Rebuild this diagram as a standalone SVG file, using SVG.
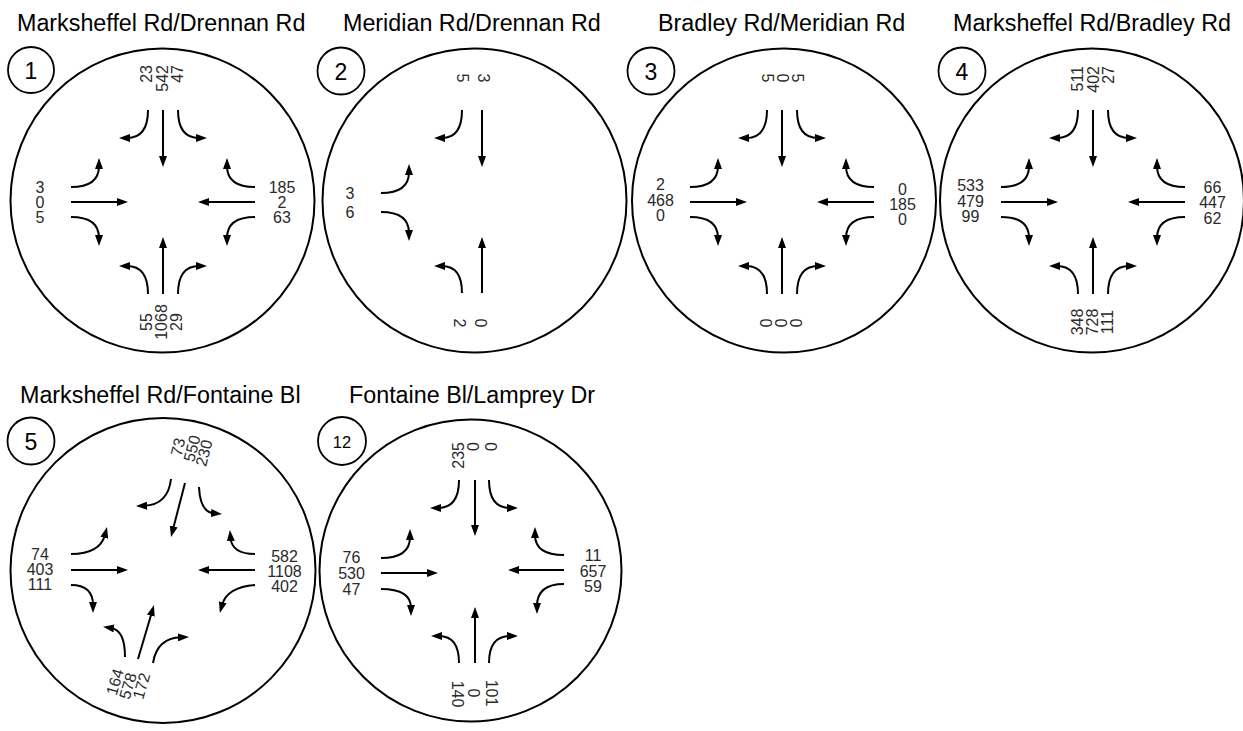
<svg xmlns="http://www.w3.org/2000/svg" width="1243" height="731" viewBox="0 0 1243 731">
<style>
.t{font-family:"Liberation Sans",Arial,sans-serif;font-size:23.3px;fill:#000}
.n{font-family:"Liberation Sans",Arial,sans-serif;font-size:16px;fill:#2a2a2a;text-anchor:middle;dominant-baseline:central}
.ne{text-anchor:end}
.bn{font-family:"Liberation Sans",Arial,sans-serif;font-size:23px;fill:#000;text-anchor:middle;dominant-baseline:central}
.c{fill:none;stroke:#000;stroke-width:2}
.b{fill:#fff;stroke:#000;stroke-width:1.8}
.a{fill:none;stroke:#000;stroke-width:2;marker-end:url(#ah)}
</style>
<defs>
<marker id="ah" markerUnits="userSpaceOnUse" markerWidth="11" markerHeight="8" refX="3" refY="4" orient="auto" viewBox="0 0 11 8"><path d="M0,0 L11,4 L0,8 z" fill="#000"/></marker>
<g id="arr4">
<path class="a" d="M0 -92 V-43"/>
<path class="a" d="M0 92 V43"/>
<path class="a" d="M-92 0 H-43"/>
<path class="a" d="M92 0 H43"/>
<path class="a" d="M-15 -92 Q-15 -64 -36 -64"/>
<path class="a" d="M15 -92 Q15 -64 36 -64"/>
<path class="a" d="M-15 92 Q-15 64 -36 64"/>
<path class="a" d="M15 92 Q15 64 36 64"/>
<path class="a" d="M-92 -15 Q-64 -15 -64 -36"/>
<path class="a" d="M-92 15 Q-64 15 -64 36"/>
<path class="a" d="M92 -15 Q64 -15 64 -36"/>
<path class="a" d="M92 15 Q64 15 64 36"/>
</g>
</defs>
<rect width="1243" height="731" fill="#fff"/>

<g id="panel1">
<text class="t" x="17" y="31">Marksheffel Rd/Drennan Rd</text>
<circle class="b" cx="31" cy="70" r="23"/>
<text class="bn" x="31" y="71">1</text>
<circle class="c" cx="162.5" cy="200.5" r="152"/>
<text class="n ne" transform="translate(146.7,65) rotate(-90)">23</text>
<text class="n ne" transform="translate(162.5,65) rotate(-90)">542</text>
<text class="n ne" transform="translate(177.5,65) rotate(-90)">47</text>
<text class="n" transform="translate(146,322) rotate(-90)">55</text>
<text class="n" transform="translate(161.5,322) rotate(-90)">1068</text>
<text class="n" transform="translate(176,322) rotate(-90)">29</text>
<text class="n" x="40" y="187.5">3</text>
<text class="n" x="40" y="202.5">0</text>
<text class="n" x="40" y="217.5">5</text>
<text class="n" x="282" y="187.5">185</text>
<text class="n" x="282" y="202.5">2</text>
<text class="n" x="282" y="217.5">63</text>
</g>

<g id="panel2">
<text class="t" x="343" y="31">Meridian Rd/Drennan Rd</text>
<circle class="b" cx="341" cy="71" r="23.5"/>
<text class="bn" x="341" y="72">2</text>
<circle class="c" cx="474.5" cy="200.5" r="152"/>
<text class="n" transform="translate(462,78) rotate(90)">5</text>
<text class="n" transform="translate(483,78) rotate(90)">3</text>
<text class="n" transform="translate(459,323) rotate(90)">2</text>
<text class="n" transform="translate(480,323) rotate(90)">0</text>
<text class="n" x="350" y="193">3</text>
<text class="n" x="350" y="212">6</text>
</g>

<g id="panel3">
<text class="t" x="658" y="31">Bradley Rd/Meridian Rd</text>
<circle class="b" cx="651" cy="71" r="23.5"/>
<text class="bn" x="651" y="72">3</text>
<circle class="c" cx="784" cy="200.5" r="152"/>
<text class="n" transform="translate(767,78) rotate(90)">5</text>
<text class="n" transform="translate(782,78) rotate(90)">0</text>
<text class="n" transform="translate(797,78) rotate(90)">5</text>
<text class="n" transform="translate(765,323) rotate(90)">0</text>
<text class="n" transform="translate(780,323) rotate(90)">0</text>
<text class="n" transform="translate(795,323) rotate(90)">0</text>
<text class="n" x="660.5" y="184.5">2</text>
<text class="n" x="660.5" y="200.5">468</text>
<text class="n" x="660.5" y="215.5">0</text>
<text class="n" x="902.5" y="189">0</text>
<text class="n" x="902.5" y="204.5">185</text>
<text class="n" x="902.5" y="219.5">0</text>
</g>

<g id="panel4">
<text class="t" x="953" y="31">Marksheffel Rd/Bradley Rd</text>
<circle class="b" cx="962" cy="71" r="23.5"/>
<text class="bn" x="962" y="72">4</text>
<circle class="c" cx="1092" cy="200.5" r="152"/>
<text class="n ne" transform="translate(1077,66) rotate(-90)">511</text>
<text class="n ne" transform="translate(1093,66) rotate(-90)">402</text>
<text class="n ne" transform="translate(1108,66) rotate(-90)">27</text>
<text class="n" transform="translate(1077,322) rotate(-90)">348</text>
<text class="n" transform="translate(1092,322) rotate(-90)">728</text>
<text class="n" transform="translate(1107,322) rotate(-90)">111</text>
<text class="n" x="970.5" y="185.5">533</text>
<text class="n" x="970.5" y="201">479</text>
<text class="n" x="970.5" y="216.5">99</text>
<text class="n" x="1212.5" y="187.5">66</text>
<text class="n" x="1212.5" y="202.5">447</text>
<text class="n" x="1212.5" y="218">62</text>
</g>

<g id="panel5">
<text class="t" x="20" y="403">Marksheffel Rd/Fontaine Bl</text>
<circle class="b" cx="31" cy="441" r="23.5"/>
<text class="bn" x="31" y="442">5</text>
<circle class="c" cx="163" cy="570.5" r="152.5"/>
<text class="n" transform="translate(178,447) rotate(-76)">73</text>
<text class="n" transform="translate(192,448.5) rotate(-76)">550</text>
<text class="n" transform="translate(204,453) rotate(-76)">230</text>
<text class="n" transform="translate(115,682) rotate(-74)">164</text>
<text class="n" transform="translate(128,686) rotate(-74)">578</text>
<text class="n" transform="translate(141.5,686) rotate(-74)">172</text>
<text class="n" x="40" y="554">74</text>
<text class="n" x="40" y="569">403</text>
<text class="n" x="40" y="584">111</text>
<text class="n" x="284.5" y="556">582</text>
<text class="n" x="284.5" y="571">1108</text>
<text class="n" x="284.5" y="586">402</text>
</g>

<g id="panel12">
<text class="t" x="349" y="403">Fontaine Bl/Lamprey Dr</text>
<circle class="b" cx="342" cy="441" r="24"/>
<text class="bn" x="342" y="442" style="font-size:16.5px">12</text>
<circle class="c" cx="470.5" cy="570.5" r="151"/>
<text class="n ne" transform="translate(458,442) rotate(-90)">235</text>
<text class="n ne" transform="translate(473,442) rotate(-90)">0</text>
<text class="n ne" transform="translate(491,442) rotate(-90)">0</text>
<text class="n" transform="translate(457,694) rotate(90)">140</text>
<text class="n" transform="translate(473,693) rotate(90)">0</text>
<text class="n" transform="translate(491,693) rotate(90)">101</text>
<text class="n" x="351.5" y="557.5">76</text>
<text class="n" x="351.5" y="573">530</text>
<text class="n" x="351.5" y="589">47</text>
<text class="n" x="593" y="555">11</text>
<text class="n" x="593" y="571">657</text>
<text class="n" x="593" y="586">59</text>
</g>

<g id="connectors">
<use href="#arr4" transform="translate(163,202)"/>
<use href="#arr4" transform="translate(782,202)"/>
<use href="#arr4" transform="translate(1093,202)"/>
<path class="a" d="M482 110 V159"/>
<path class="a" d="M462 110 Q462 138 442 138"/>
<path class="a" d="M381 193 Q409 193 409 172"/>
<path class="a" d="M381 212 Q409 212 409 233"/>
<path class="a" d="M482 293 V245"/>
<path class="a" d="M462 293 Q462 266 442 266"/>
<path class="a" d="M185 483 L173 529.3"/>
<path class="a" d="M171 479 Q168 505 144 505.8"/>
<path class="a" d="M199 487 Q200 512 214 513.3"/>
<path class="a" d="M71 570 H120"/>
<path class="a" d="M71 554 Q100 554 105 534.8"/>
<path class="a" d="M71 585 Q93 585 93 605"/>
<path class="a" d="M255 570 H206"/>
<path class="a" d="M255 554 Q232 554 230.6 538"/>
<path class="a" d="M255 585 Q227 587 222 605.2"/>
<path class="a" d="M138 659 L151.7 612.7"/>
<path class="a" d="M125 657 Q125 630 111 628"/>
<path class="a" d="M153 663 Q157 638 181 637.3"/>
<path class="a" d="M475 480 V528"/>
<path class="a" d="M459 480 Q459 508 438 508"/>
<path class="a" d="M489 480 Q489 508 510 508"/>
<path class="a" d="M381 573 H430"/>
<path class="a" d="M381 558 Q410 558 410 537"/>
<path class="a" d="M381 589 Q411 589 411 608"/>
<path class="a" d="M564 570 H516"/>
<path class="a" d="M564 555 Q535 555 535 535"/>
<path class="a" d="M564 584 Q537 584 537 606"/>
<path class="a" d="M475 663 V615"/>
<path class="a" d="M459 663 Q459 636 439 636"/>
<path class="a" d="M489 663 Q489 636 510 636"/>
</g>
</svg>
